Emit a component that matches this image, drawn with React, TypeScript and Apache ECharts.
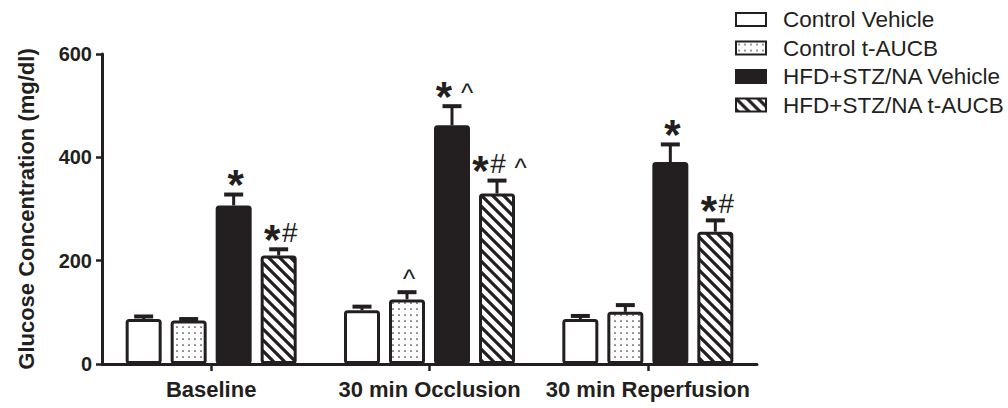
import React, { useEffect, useRef } from 'react';
import * as echarts from 'echarts';

const categories = ['Baseline', '30 min Occlusion', '30 min Reperfusion'];
const seriesNames = ['Control Vehicle', 'Control t-AUCB', 'HFD+STZ/NA Vehicle', 'HFD+STZ/NA t-AUCB'];

const controlVehicle = [87, 104, 87];
const controlVehicleErr = [5, 7, 6];
const controlTAUCB = [84, 125, 101];
const controlTAUCBErr = [3, 14, 13];
const hfdVehicle = [307, 462, 391];
const hfdVehicleErr = [21, 37, 34];
const hfdTAUCB = [210, 330, 256];
const hfdTAUCBErr = [12, 25, 22];

const controlVehicleMarks = ['', '', ''];
const controlTAUCBMarks = ['', '^', ''];
const hfdVehicleMarks = ['*', '* ^', '*'];
const hfdTAUCBMarks = ['*#', '*# ^', '*#'];

const yMin = 0;
const yMax = 600;
const yInterval = 200;

const INK = '#231f20';
const FAMILY = '"Liberation Sans", Arial, Helvetica, sans-serif';
const BAR_W = 36;
const BAR_GAP = 0.25;
const STEP = BAR_W * (1 + BAR_GAP);

function makeDots(): HTMLCanvasElement {
  const c = document.createElement('canvas');
  c.width = 6;
  c.height = 6;
  const ctx = c.getContext('2d')!;
  ctx.fillStyle = '#ffffff';
  ctx.fillRect(0, 0, 6, 6);
  ctx.fillStyle = '#333333';
  ctx.beginPath();
  ctx.arc(3, 3, 0.85, 0, Math.PI * 2);
  ctx.fill();
  return c;
}

function makeHatch(): HTMLCanvasElement {
  const s = 11;
  const c = document.createElement('canvas');
  c.width = s;
  c.height = s;
  const ctx = c.getContext('2d')!;
  ctx.fillStyle = '#ffffff';
  ctx.fillRect(0, 0, s, s);
  ctx.strokeStyle = INK;
  ctx.lineWidth = 3.2;
  ctx.beginPath();
  for (const k of [-s, 0, s]) {
    ctx.moveTo(k - 2, -2);
    ctx.lineTo(k + s + 2, s + 2);
  }
  ctx.stroke();
  return c;
}

const GLYPH_W: Record<string, number> = { '*': 18, '#': 17, '^': 12, ' ': 8 };

function glyphElements(mark: string, cx: number, T: number) {
  const chars = mark.split('');
  const total = chars.reduce((s, ch) => s + (GLYPH_W[ch] || 10), 0);
  let x = cx + 2 - total / 2;
  const els: any[] = [];
  for (const ch of chars) {
    const w = GLYPH_W[ch] || 10;
    const center = x + w / 2;
    x += w;
    if (ch === ' ') continue;
    if (ch === '*') {
      els.push({
        type: 'text', x: center, y: T - 8,
        style: { text: '*', font: `bold 42px ${FAMILY}`, fill: INK, align: 'center', verticalAlign: 'middle' },
      });
    } else if (ch === '#') {
      els.push({
        type: 'text', x: center, y: T - 15,
        style: { text: '#', font: `normal 28px ${FAMILY}`, fill: INK, align: 'center', verticalAlign: 'middle' },
      });
    } else {
      els.push({
        type: 'text', x: center, y: T - 11,
        style: { text: ch, font: `normal 26px ${FAMILY}`, fill: INK, align: 'center', verticalAlign: 'middle' },
      });
    }
  }
  return els;
}

function errSeries(name: string, values: number[], errs: number[], marks: string[], slot: number) {
  return {
    type: 'custom',
    name,
    coordinateSystem: 'cartesian2d',
    silent: true,
    z: 5,
    data: values.map((v, i) => [i, v, errs[i]]),
    encode: { x: 0, y: 1 },
    renderItem: (params: any, api: any) => {
      const i = api.value(0);
      const v = api.value(1);
      const e = api.value(2);
      const b = api.coord([i, v]);
      const t = api.coord([i, v + e]);
      const x = b[0] + (slot - 1.5) * STEP;
      const children: any[] = [
        { type: 'line', shape: { x1: x, y1: b[1], x2: x, y2: t[1] }, style: { stroke: INK, lineWidth: 3 } },
        { type: 'line', shape: { x1: x - 9.5, y1: t[1], x2: x + 9.5, y2: t[1] }, style: { stroke: INK, lineWidth: 4 } },
      ];
      const mark = marks[params.dataIndex];
      if (mark) children.push(...glyphElements(mark, x, t[1] - 2));
      return { type: 'group', children };
    },
  };
}

export default function App() {
  const ref = useRef<HTMLDivElement>(null);
  useEffect(() => {
    if (!ref.current) return;
    const chart = echarts.init(ref.current, undefined, { renderer: 'svg' });
    const dots = { image: makeDots(), repeat: 'repeat' };
    const hatch = { image: makeHatch(), repeat: 'repeat' };
    const barBase = {
      type: 'bar',
      barWidth: BAR_W,
      barGap: `${BAR_GAP * 100}%`,
      z: 2,
    };
    const border = { borderColor: INK, borderWidth: 3, borderRadius: 2 };
    const option: any = {
      animation: false,
      backgroundColor: '#ffffff',
      grid: { left: 102, right: 251, top: 54, bottom: 44, containLabel: false },
      legend: {
        data: seriesNames,
        orient: 'vertical',
        left: 730,
        top: 3,
        icon: 'rect',
        itemWidth: 30,
        itemHeight: 13,
        itemGap: 5.5,
        selectedMode: false,
        textStyle: { fontSize: 22.5, fontFamily: FAMILY, color: INK, lineHeight: 20, padding: [0, 0, 0, 12] },
      },
      xAxis: {
        type: 'category',
        data: categories,
        axisLine: { show: true, lineStyle: { color: INK, width: 3 } },
        axisTick: { show: true, alignWithLabel: true, length: 7, lineStyle: { color: INK, width: 2.5 } },
        axisLabel: { interval: 0, fontSize: 22, fontWeight: 'bold', fontFamily: FAMILY, color: INK, margin: 14 },
        splitLine: { show: false },
      },
      yAxis: {
        type: 'value',
        min: yMin,
        max: yMax,
        interval: yInterval,
        name: 'Glucose Concentration (mg/dl)',
        nameLocation: 'middle',
        nameGap: 65,
        nameTextStyle: { fontSize: 22, fontWeight: 'bold', fontFamily: FAMILY, color: INK },
        axisLine: { show: true, lineStyle: { color: INK, width: 3 } },
        axisTick: { show: true, length: 6, lineStyle: { color: INK, width: 2.5 } },
        axisLabel: { fontSize: 20, fontWeight: 'bold', fontFamily: FAMILY, color: INK, margin: 10 },
        splitLine: { show: false },
      },
      series: [
        { ...barBase, name: seriesNames[0], data: controlVehicle, itemStyle: { color: '#ffffff', ...border } },
        { ...barBase, name: seriesNames[1], data: controlTAUCB, itemStyle: { color: dots, ...border } },
        { ...barBase, name: seriesNames[2], data: hfdVehicle, itemStyle: { color: INK, ...border } },
        { ...barBase, name: seriesNames[3], data: hfdTAUCB, itemStyle: { color: hatch, ...border } },
        errSeries('err0', controlVehicle, controlVehicleErr, controlVehicleMarks, 0),
        errSeries('err1', controlTAUCB, controlTAUCBErr, controlTAUCBMarks, 1),
        errSeries('err2', hfdVehicle, hfdVehicleErr, hfdVehicleMarks, 2),
        errSeries('err3', hfdTAUCB, hfdTAUCBErr, hfdTAUCBMarks, 3),
      ],
    };
    chart.setOption(option);
    return () => chart.dispose();
  }, []);
  return (
    <div
      ref={ref}
      style={{ position: 'fixed', left: 0, top: 0, width: 1008, height: 408, background: '#fff' }}
    />
  );
}
